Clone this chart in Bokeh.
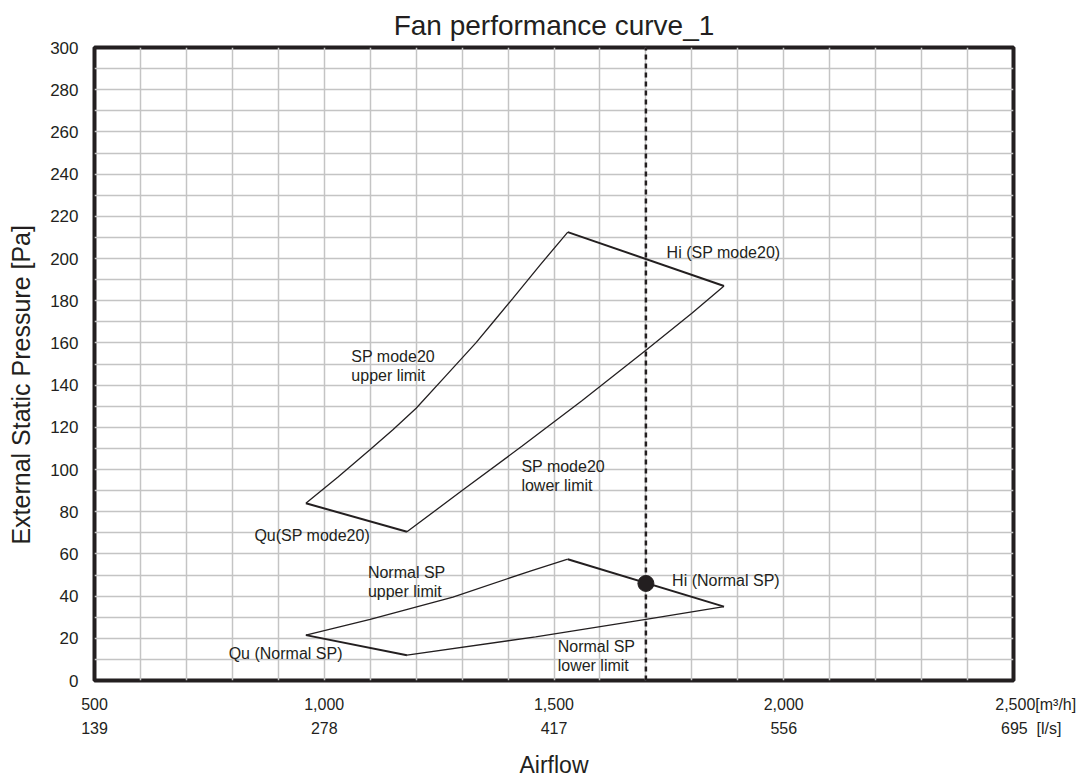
from bokeh.plotting import figure
from bokeh.models import Range1d, FixedTicker, LinearAxis, ColumnDataSource
from bokeh.core.properties import value
from bokeh.embed import file_html
from bokeh.resources import INLINE

# ---- data (airflow m3/h, static pressure Pa) ----
m20_upper_x = [960, 1030, 1100, 1150, 1200, 1265, 1330, 1370, 1410, 1470, 1530]
m20_upper_y = [84, 96.5, 109.5, 119, 129, 144.5, 160, 170.5, 181, 197, 212.5]
m20_lower_x = [1180, 1300, 1430, 1560, 1700, 1800, 1870]
m20_lower_y = [70.5, 90, 111, 132.5, 156.5, 174, 187]
m20_hi_x = [1530, 1870]
m20_hi_y = [212.5, 187]
m20_qu_x = [960, 1180]
m20_qu_y = [84, 70.5]

nsp_upper_x = [960, 1100, 1280, 1450, 1530]
nsp_upper_y = [21.5, 29, 39.5, 52, 57.5]
nsp_lower_x = [1180, 1460, 1700, 1870]
nsp_lower_y = [12, 20.7, 29, 35]
nsp_hi_x = [1530, 1870]
nsp_hi_y = [57.5, 35]
nsp_qu_x = [960, 1180]
nsp_qu_y = [21.5, 12]

op_airflow = 1700
op_point_x = [1700]
op_point_y = [46]

x_ticks = [500, 1000, 1500, 2000, 2500]
x_labels_m3h = ["500", "1,000", "1,500", "2,000", "2,500"]
x_labels_ls = ["139", "278", "417", "556", "695"]
unit_m3h = "[m\u00b3/h]"
unit_ls = "[l/s]"
y_ticks = list(range(0, 301, 20))

ann_text = ["Hi (SP mode20)", "SP mode20", "upper limit", "SP mode20", "lower limit",
            "Qu(SP mode20)", "Normal SP", "upper limit", "Qu (Normal SP)",
            "Normal SP", "lower limit", "Hi (Normal SP)"]
ann_x = [1745, 1059, 1059, 1429, 1429, 848, 1095, 1095, 792, 1508, 1508, 1757]
ann_y = [203, 153.5, 144.5, 101.4, 92.4, 68.6, 51.4, 42.3, 12.8, 15.9, 7.1, 47.5]

INK = "#231f20"
FONT = "Liberation Sans"
NB = "\u00a0"

p = figure(width=1089, height=780, output_backend="svg", toolbar_location=None,
           x_range=Range1d(500, 2500), y_range=Range1d(0, 300),
           min_border_left=94, min_border_right=76, min_border_top=47, min_border_bottom=99)

p.title.text = "Fan performance curve_1"
p.title.align = "center"
p.title.vertical_align = "top"
p.title.text_font = FONT
p.title.text_font_size = "28px"
p.title.text_font_style = "normal"
p.title.text_color = INK

p.outline_line_color = INK
p.outline_line_width = 4
p.background_fill_color = "white"
p.border_fill_color = "white"

# grid
p.xgrid.ticker = FixedTicker(ticks=list(range(500, 2501, 100)))
p.ygrid.ticker = FixedTicker(ticks=list(range(0, 301, 10)))
for g in (p.xgrid, p.ygrid):
    g.grid_line_color = "#c4c4c4"
    g.grid_line_width = 1.5

# y axis
ya = p.yaxis[0]
ya.ticker = FixedTicker(ticks=y_ticks)
ya.axis_label = "External Static Pressure [Pa]" + NB * 6
ya.axis_label_text_font = FONT
ya.axis_label_text_font_size = "25px"
ya.axis_label_text_font_style = "normal"
ya.axis_label_text_color = INK
ya.axis_label_standoff = 12
ya.major_label_text_font = FONT
ya.major_label_text_font_size = "17px"
ya.major_label_text_color = INK
ya.major_label_standoff = 10
ya.axis_line_color = None
ya.major_tick_line_color = None
ya.minor_tick_line_color = None

# x axis (m3/h) - last label carries the unit, padded so the number stays centred
lab1 = dict(zip(x_ticks, x_labels_m3h))
lab1[x_ticks[-1]] = NB * 10 + x_labels_m3h[-1] + unit_m3h
xa = p.xaxis[0]
xa.ticker = FixedTicker(ticks=x_ticks)
xa.major_label_overrides = lab1
xa.major_label_text_font = FONT
xa.major_label_text_font_size = "16px"
xa.major_label_text_color = INK
xa.major_label_standoff = 9
xa.axis_line_color = None
xa.major_tick_line_color = None
xa.minor_tick_line_color = None

# second x axis (l/s)
lab2 = dict(zip(x_ticks, x_labels_ls))
lab2[x_ticks[-1]] = NB * 8 + x_labels_ls[-1] + NB * 2 + unit_ls
xb = LinearAxis(ticker=FixedTicker(ticks=x_ticks), major_label_overrides=lab2)
xb.major_label_text_font = FONT
xb.major_label_text_font_size = "16px"
xb.major_label_text_color = INK
xb.major_label_standoff = -2
xb.axis_line_color = None
xb.major_tick_line_color = None
xb.minor_tick_line_color = None
xb.axis_label = "Airflow"
xb.axis_label_text_font = FONT
xb.axis_label_text_font_size = "23px"
xb.axis_label_text_font_style = "normal"
xb.axis_label_text_color = INK
xb.axis_label_standoff = 12
p.add_layout(xb, "below")

# curves
for xs, ys, w in [(m20_upper_x, m20_upper_y, 1.3), (m20_lower_x, m20_lower_y, 1.3),
                  (m20_hi_x, m20_hi_y, 2), (m20_qu_x, m20_qu_y, 2),
                  (nsp_upper_x, nsp_upper_y, 1.3), (nsp_lower_x, nsp_lower_y, 1.3),
                  (nsp_hi_x, nsp_hi_y, 2), (nsp_qu_x, nsp_qu_y, 2)]:
    p.line(xs, ys, line_color=INK, line_width=w)

p.line([op_airflow, op_airflow], [0, 300], line_color=INK, line_width=2.5, line_dash="5 4")
p.scatter(op_point_x, op_point_y, size=16, fill_color=INK, line_color=INK)

src = ColumnDataSource(dict(x=ann_x, y=ann_y, t=ann_text))
p.text(x="x", y="y", text="t", source=src, text_font=value(FONT), text_font_size="16px",
       text_color=INK, text_align="left", text_baseline="middle")

open("out.html", "w").write(file_html(p, INLINE))
